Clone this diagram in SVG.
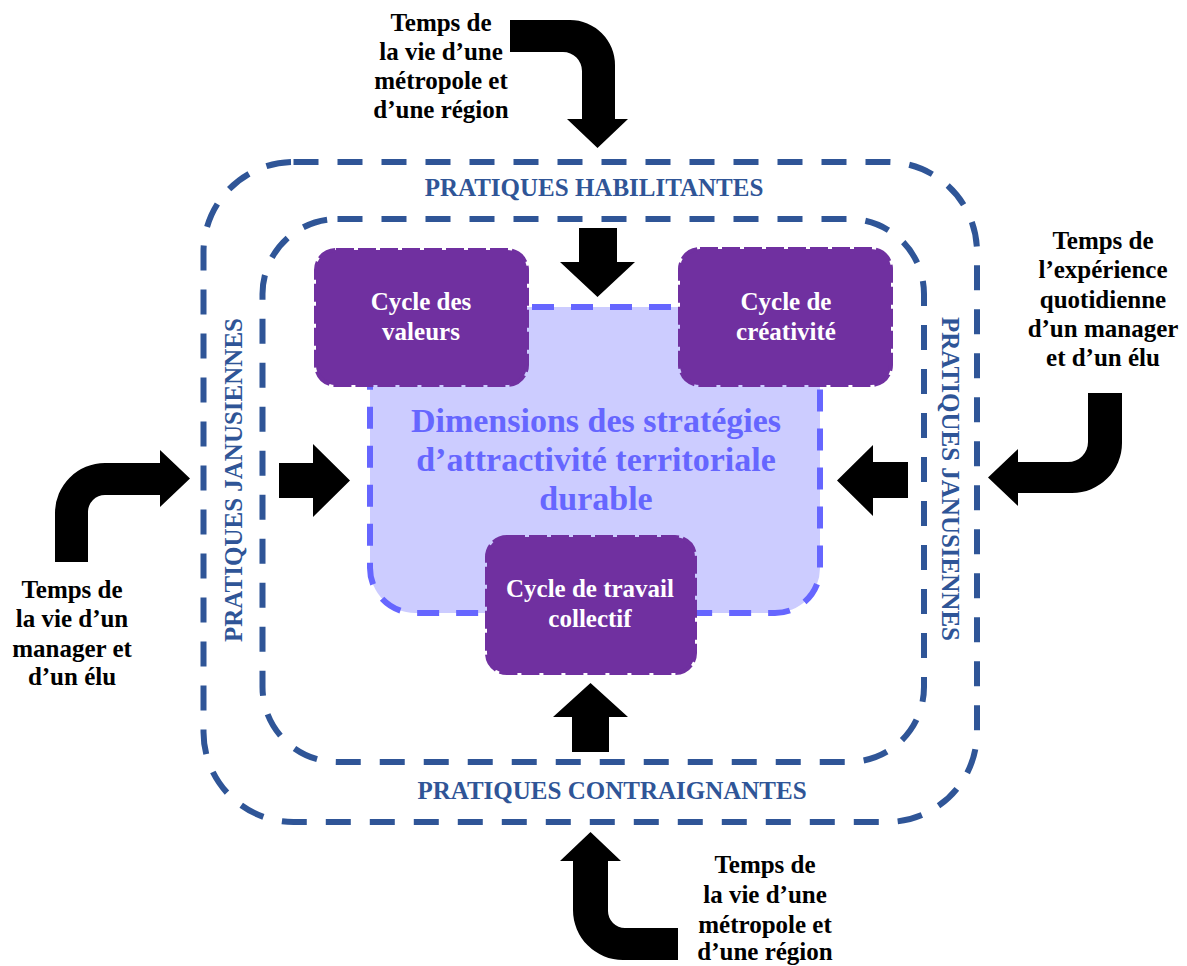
<svg xmlns="http://www.w3.org/2000/svg" width="1187" height="966" viewBox="0 0 1187 966">
<style>
.frame{fill:none;stroke:#2F5597;stroke-width:6;stroke-dasharray:25 19}
.core{fill:#CCCCFF;stroke:#6666FF;stroke-width:6;stroke-dasharray:22 17}
.cycle{fill:#7030A0;stroke:#7030A0;stroke-width:4;stroke-dasharray:18 4}
.arrow{fill:#000}
text{font-family:"Liberation Serif","Times New Roman",serif;font-weight:bold;font-size:25px;text-anchor:middle}
.lbl{fill:#000}
.band{fill:#2F5597}
.wt{fill:#fff}
.core-t{fill:#6666FF;font-size:34px}
</style>
<rect width="1187" height="966" fill="#fff"/>
<g id="outer-frame">
<rect class="frame" x="203.5" y="162" width="773.5" height="660" rx="90"/>
<text class="band" x="594" y="196">PRATIQUES HABILITANTES</text>
<text class="band" x="612" y="799">PRATIQUES CONTRAIGNANTES</text>
<text class="band" transform="translate(242,480) rotate(-90)">PRATIQUES JANUSIENNES</text>
<text class="band" transform="translate(942,479) rotate(90)">PRATIQUES JANUSIENNES</text>
</g>
<g id="inner-frame">
<rect class="frame" x="262.5" y="219" width="661.5" height="543" rx="75"/>
</g>
<g id="core">
<rect class="core" x="370" y="307" width="450" height="306" rx="45"/>
<text class="core-t" x="596" y="432">Dimensions des stratégies</text>
<text class="core-t" x="596" y="471">d’attractivité territoriale</text>
<text class="core-t" x="596" y="510">durable</text>
</g>
<g id="cycle-valeurs">
<rect class="cycle" x="316" y="250" width="211" height="135" rx="20"/>
<text class="wt" x="421" y="310">Cycle des</text>
<text class="wt" x="421" y="340">valeurs</text>
</g>
<g id="cycle-creativite">
<rect class="cycle" x="680" y="249" width="211" height="136" rx="20"/>
<text class="wt" x="786" y="310">Cycle de</text>
<text class="wt" x="786" y="340">créativité</text>
</g>
<g id="cycle-travail">
<rect class="cycle" x="487" y="537" width="208" height="136" rx="20"/>
<text class="wt" x="590" y="597">Cycle de travail</text>
<text class="wt" x="590" y="627">collectif</text>
</g>
<g id="label-top">
<text class="lbl" x="441" y="31">Temps de</text>
<text class="lbl" x="441" y="60">la vie d’une</text>
<text class="lbl" x="441" y="89">métropole et</text>
<text class="lbl" x="441" y="118">d’une région</text>
</g>
<g id="label-left">
<text class="lbl" x="72" y="598">Temps de</text>
<text class="lbl" x="72" y="627">la vie d’un</text>
<text class="lbl" x="72" y="657">manager et</text>
<text class="lbl" x="72" y="685">d’un élu</text>
</g>
<g id="label-right">
<text class="lbl" x="1103" y="249">Temps de</text>
<text class="lbl" x="1103" y="278">l’expérience</text>
<text class="lbl" x="1103" y="308">quotidienne</text>
<text class="lbl" x="1103" y="337">d’un manager</text>
<text class="lbl" x="1103" y="366">et d’un élu</text>
</g>
<g id="label-bottom">
<text class="lbl" x="765" y="873">Temps de</text>
<text class="lbl" x="765" y="903">la vie d’une</text>
<text class="lbl" x="765" y="933">métropole et</text>
<text class="lbl" x="765" y="960">d’une région</text>
</g>
<g id="connectors">
<path class="arrow" d="M510,20 H570 A45,45 0 0 1 615,65 V119 H628 L597.5,148 L567,119 H582 V71 A19,19 0 0 0 563,52 H510 Z"/>
<path class="arrow" d="M579,228 H617 V262 H635 L597.5,297 L560,262 H579 Z"/>
<path class="arrow" d="M55,562 V513 A50,50 0 0 1 105,463 H160 V450 L190,478.5 L160,507 V495 H105 A17,17 0 0 0 88,512 V562 Z"/>
<path class="arrow" d="M279,463 H313 V444 L350,480.5 L313,517 V498 H279 Z"/>
<path class="arrow" d="M908,462 H873 V445 L837,480.5 L873,516 V498 H908 Z"/>
<path class="arrow" d="M1088,393 H1122 V443 A50,50 0 0 1 1072,493 H1018 V506 L988,477.5 L1018,449 V462 H1068 A20,20 0 0 0 1088,442 Z"/>
<path class="arrow" d="M572,752 V717 H553 L590.5,683 L628,717 H609 V752 Z"/>
<path class="arrow" d="M573,861 H560 L590.5,832 L621,861 H608 V911 A17,17 0 0 0 625,928 H678 V960 H623 A50,50 0 0 1 573,910 Z"/>
</g>
</svg>
